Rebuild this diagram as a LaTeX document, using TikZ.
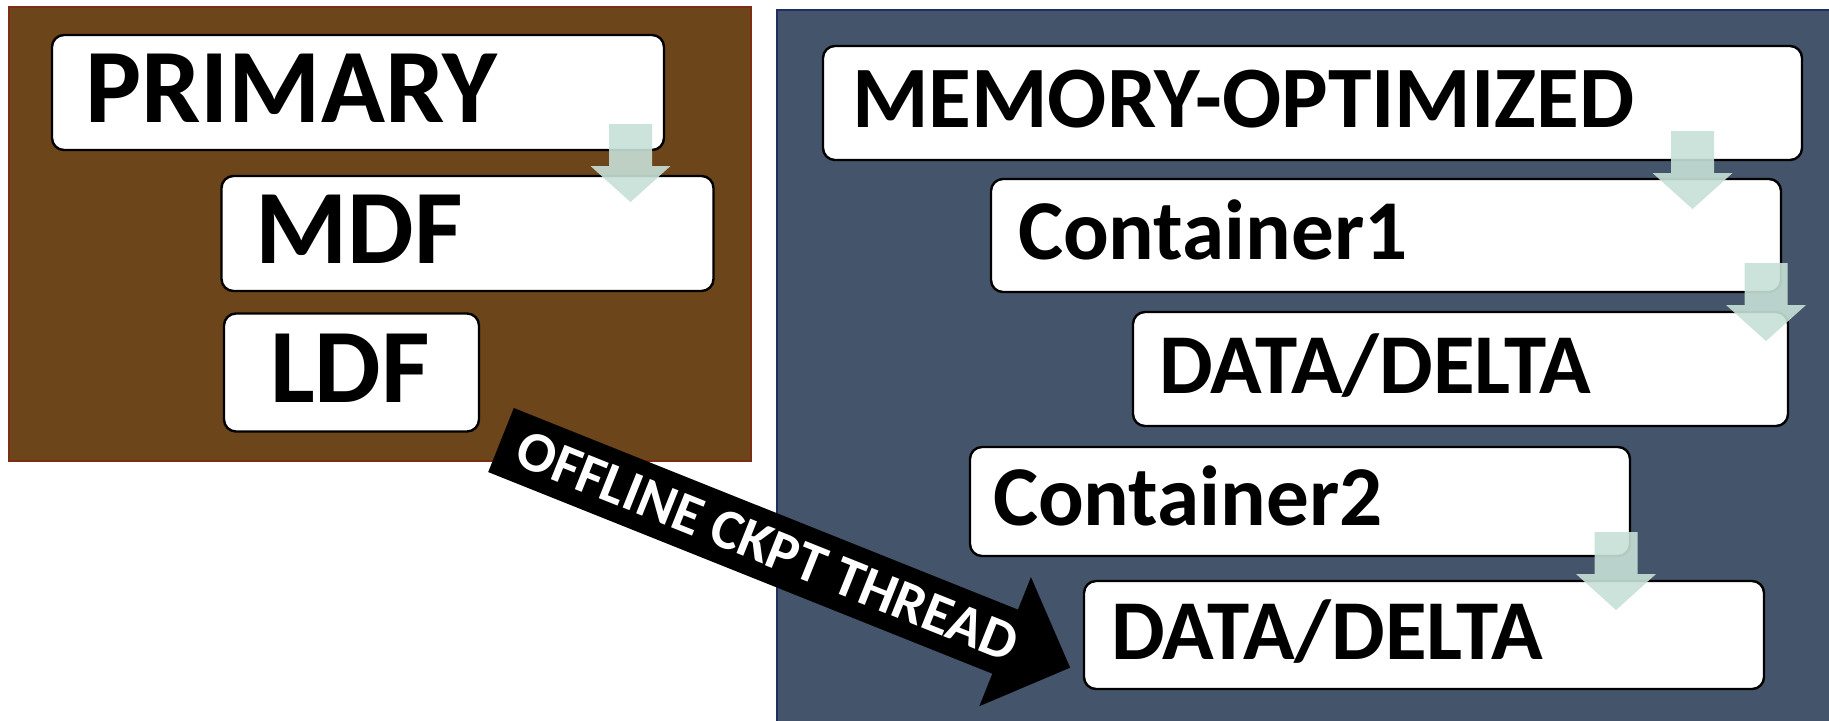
\documentclass[tikz,border=0pt]{standalone}
\usepackage{fontspec}
\setmainfont{Carlito}
\usetikzlibrary{calc}
\definecolor{panelbrown}{RGB}{108,70,26}
\definecolor{panelbrownline}{RGB}{125,45,20}
\definecolor{panelblue}{RGB}{68,84,106}
\definecolor{panelblueline}{RGB}{28,48,100}
\definecolor{flowgreen}{RGB}{198,224,214}
\begin{document}
\begin{tikzpicture}[x=0.5pt,y=-0.5pt,
  tag/.style={draw=black, line width=1.2pt, fill=white, rounded corners=6pt,
    inner ysep=0pt, outer sep=0pt, align=left, text height=#1, text depth=3pt},
  bigtag/.style={tag=33.4pt, font=\fontsize{52.8}{60}\selectfont\bfseries},
  smalltag/.style={tag=27pt, font=\fontsize{42.6}{48}\selectfont\bfseries},
  flowarrow/.pic={
    \fill[flowgreen, fill opacity=0.9]
      (-21.5,0) -- (21.5,0) -- (21.5,42) -- (40,42) -- (0,78)
      -- (-40,42) -- (-21.5,42) -- cycle;},
  threadtext/.style={text=white, inner sep=0pt, text height=18pt, text depth=0pt,
    font=\fontsize{28.5}{32}\selectfont\bfseries}
]
\useasboundingbox (0,0) rectangle (1829,720);

% file-group panels
\filldraw[fill=panelbrown, draw=panelbrownline, line width=0.8pt] (9,7) rectangle (751,461);
\filldraw[fill=panelblue, draw=panelblueline, line width=1pt] (777,10) rectangle (1840,730);

% primary filegroup
\node[bigtag, minimum width=306pt, minimum height=57.5pt, inner xsep=16.5pt, text width=273pt]
  (primary) at (358,92.5) {PRIMARY};
\node[bigtag, minimum width=246pt, minimum height=57.5pt, inner xsep=17pt, text width=212pt]
  (mdf) at (467.5,233.5) {MDF};
\node[bigtag, minimum width=127.5pt, minimum height=59pt, inner xsep=23pt, text width=81.5pt]
  (ldf) at (351.5,372.5) {LDF};

% memory-optimized filegroup
\node[smalltag, font=\fontsize{43.8}{50}\selectfont\bfseries, text height=27.7pt,
  minimum width=489.5pt, minimum height=57pt, inner xsep=14.5pt, text width=460.5pt]
  (memopt) at (1312.5,103) {MEMORY-OPTIMIZED};
\node[smalltag, minimum width=395pt, minimum height=56.5pt, inner xsep=13.5pt, text width=368pt]
  (cont1) at (1386,235.5) {Container1};
\node[smalltag, minimum width=327.5pt, minimum height=57pt, inner xsep=13pt, text width=301.5pt]
  (delta1) at (1460.5,369) {DATA/DELTA};
\node[smalltag, minimum width=330pt, minimum height=54.5pt, inner xsep=11.5pt, text width=307pt]
  (cont2) at (1300,501.5) {Container2};
\node[smalltag, minimum width=340pt, minimum height=54pt, inner xsep=13.5pt, text width=313pt]
  (delta2) at (1424,635) {DATA/DELTA};

% containment arrows
\pic at ($(primary.south east)+(-33.5,-26)$) {flowarrow};
\pic at ($(memopt.south east)+(-109.5,-29)$) {flowarrow};
\pic at ($(cont1.south east)+(-15,-29)$) {flowarrow};
\pic at ($(cont2.south east)+(-14,-24)$) {flowarrow};

% offline checkpoint thread
\begin{scope}[shift={(501,440)}, rotate=-21.8]
  \fill[black] (0,-34.5) -- (543,-34.5) -- (543,-69.5) -- (613,0)
    -- (543,69.5) -- (543,34.5) -- (0,34.5) -- cycle;
  \node[threadtext, rotate=-21.8] (thread) at (287,0) {OFFLINE CKPT THREAD};
\end{scope}
\end{tikzpicture}
\end{document}
